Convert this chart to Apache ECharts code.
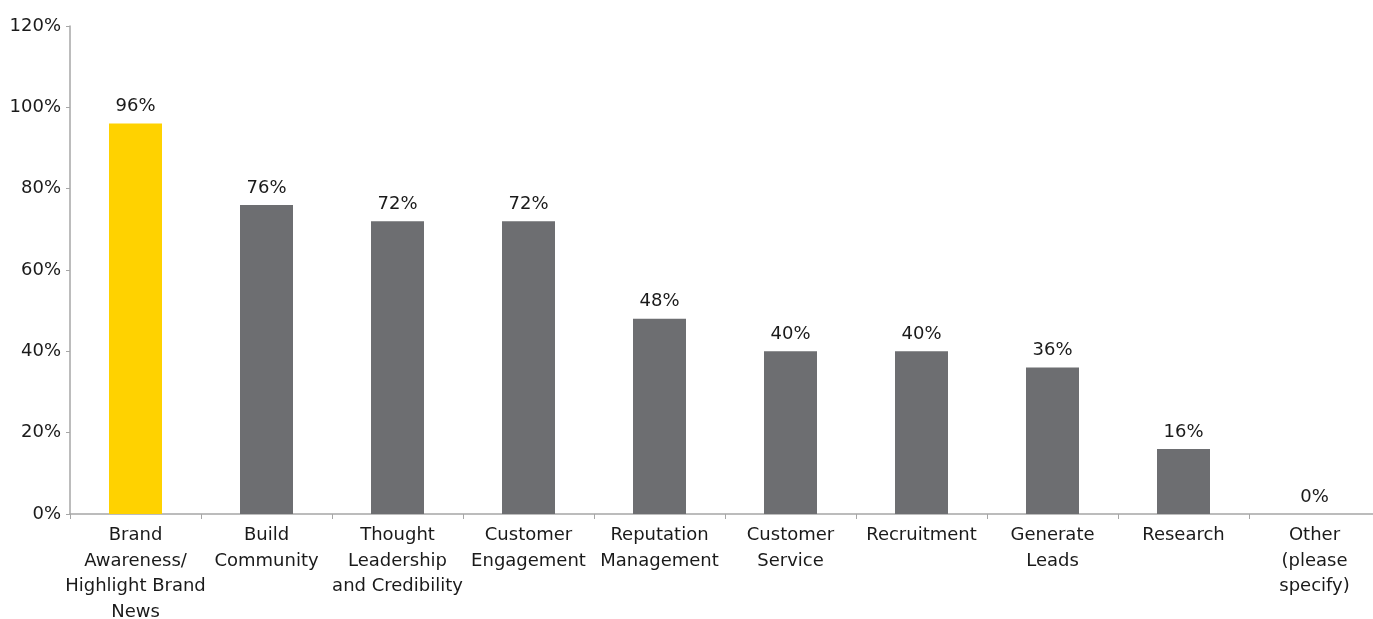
<!DOCTYPE html>
<html>
<head>
<meta charset="utf-8">
<script src="https://cdn.jsdelivr.net/npm/echarts@6/dist/echarts.min.js"></script>
<style>
  html, body { margin: 0; padding: 0; background: #fff; }
  #main { width: 1373px; height: 619px; }
</style>
</head>
<body>
<div id="main"></div>
<script>
var categories = ['Brand\nAwareness/\nHighlight Brand\nNews', 'Build\nCommunity', 'Thought\nLeadership\nand Credibility',
    'Customer\nEngagement', 'Reputation\nManagement', 'Customer\nService', 'Recruitment', 'Generate\nLeads',
    'Research', 'Other\n(please\nspecify)'];
var values = [96, 76, 72, 72, 48, 40, 40, 36, 16, 0];
var highlightIndex = 0;

var myChart = echarts.init(document.getElementById('main'));
var font = '"DejaVu Sans", sans-serif';
var option = {
    animation: false,
    textStyle: { fontFamily: font },
    grid: { left: 70, top: 26, width: 1310, height: 488, containLabel: false, outerBoundsMode: 'none' },
    xAxis: {
        type: 'category',
        data: categories,
        axisLine: { lineStyle: { color: '#a6a6a6', width: 1.5 } },
        axisTick: { show: true, length: 5, lineStyle: { color: '#a6a6a6' } },
        axisLabel: { color: '#1a1a1a', fontSize: 18, lineHeight: 25.5, margin: 9, interval: 0, fontFamily: font }
    },
    yAxis: {
        type: 'value',
        min: 0, max: 120, interval: 20,
        axisLine: { show: true, lineStyle: { color: '#a6a6a6', width: 1.5 } },
        axisTick: { show: true, length: 4, lineStyle: { color: '#a6a6a6' } },
        splitLine: { show: false },
        axisLabel: { color: '#1a1a1a', fontSize: 18, margin: 9, formatter: '{value}%', fontFamily: font }
    },
    series: [{
        type: 'bar',
        barWidth: 53,
        data: values.map(function (v, i) {
            return { value: v, itemStyle: { color: i === highlightIndex ? '#ffd200' : '#6d6e71' } };
        }),
        label: {
            show: true, position: 'top', distance: 8,
            color: '#1a1a1a', fontSize: 18, fontFamily: font,
            formatter: '{c}%'
        }
    }]
};
myChart.setOption(option);
</script>
</body>
</html>
